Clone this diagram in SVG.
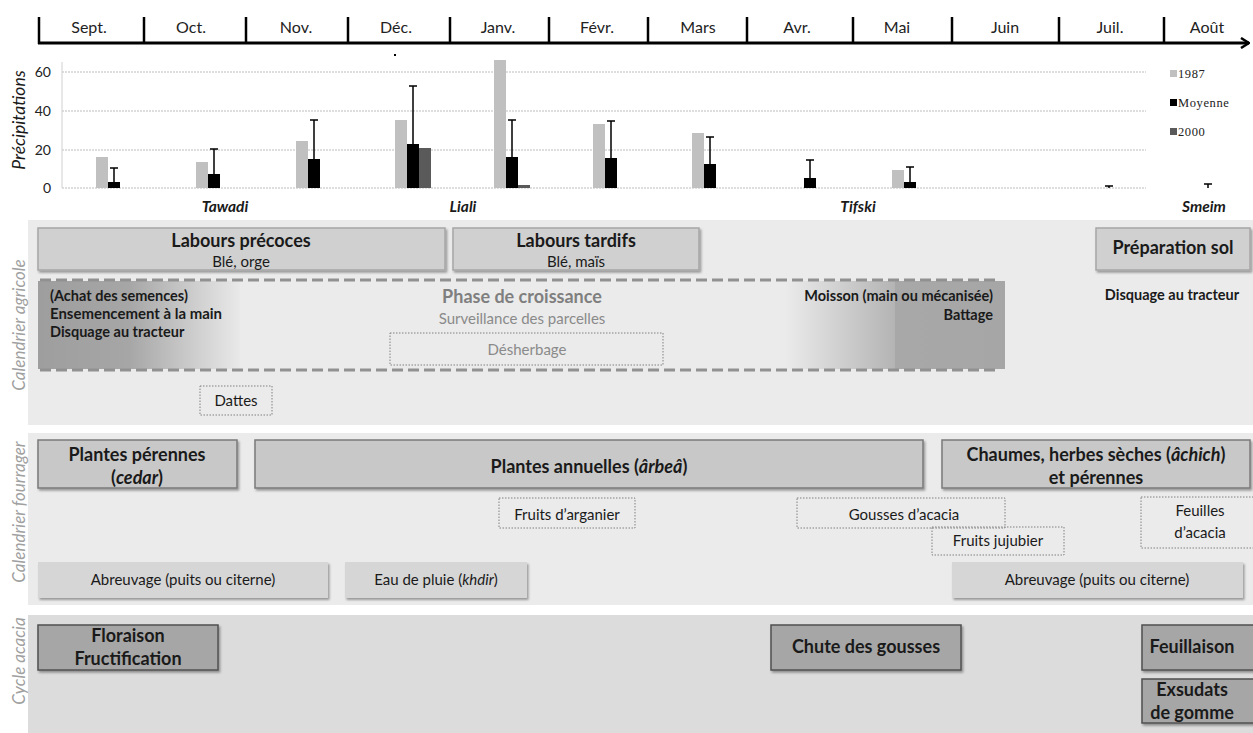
<svg xmlns="http://www.w3.org/2000/svg" width="1253" height="733" viewBox="0 0 1253 733">
<style>
text{font-family:Lato,"Open Sans","Liberation Sans",sans-serif;fill:#1a1a1a}
.m{font-size:16px;text-anchor:middle;fill:#222}
.ax{font-size:14px;text-anchor:end;fill:#222}
.lg{font-size:12.5px;fill:#222;font-family:"Liberation Serif","DejaVu Serif",serif;letter-spacing:0.6px}
.ss{font-size:15.5px;font-weight:bold;font-style:italic;text-anchor:middle}
.side{font-size:17px;font-style:italic;fill:#a0a0a0;text-anchor:middle}
.bt{font-size:18px;font-weight:bold;text-anchor:middle}
.st{font-size:15px;text-anchor:middle}
.lb{font-size:14.5px;font-weight:bold}
.grid{stroke:#bdbdbd;stroke-width:1;stroke-dasharray:2 1}
.b87{fill:#c0c0c0}
.bmo{fill:#000}
.b00{fill:#5a5a5a}
.err{stroke:#000;stroke-width:1.5;fill:none}
.box1{fill:#d0d0d0;stroke:#a6a6a6;stroke-width:1.5;filter:url(#sh)}
.box2{fill:#c8c8c8;stroke:#7a7a7a;stroke-width:1.5;filter:url(#sh)}
.box3{fill:#d6d6d6;filter:url(#sh)}
.box4{fill:#a6a6a6;stroke:#505050;stroke-width:1.5;filter:url(#sh)}
.dot{fill:none;stroke:#808080;stroke-width:1;stroke-dasharray:1.5 1.5}
.dash{stroke:#919191;stroke-width:3;stroke-dasharray:11 5;fill:none}
</style>
<defs>
<filter id="sh" x="-5%" y="-10%" width="115%" height="140%">
<feDropShadow dx="1.5" dy="2" stdDeviation="1.2" flood-color="#000" flood-opacity="0.35"/>
</filter>
<linearGradient id="gl" x1="0" y1="0" x2="1" y2="0">
<stop offset="0" stop-color="#9e9e9e"/>
<stop offset="0.45" stop-color="#a6a6a6"/>
<stop offset="1" stop-color="#e9e9e9"/>
</linearGradient>
<linearGradient id="gr" x1="0" y1="0" x2="1" y2="0">
<stop offset="0" stop-color="#ebebeb"/>
<stop offset="0.5" stop-color="#b4b4b4"/>
<stop offset="0.5" stop-color="#a8a8a8"/>
<stop offset="1" stop-color="#a6a6a6"/>
</linearGradient>
<marker id="arr" markerWidth="10" markerHeight="12" refX="9" refY="6" orient="auto" markerUnits="userSpaceOnUse">
<path d="M1,1 L9,6 L1,11" fill="none" stroke="#000" stroke-width="2.5"/>
</marker>
</defs>
<rect width="1253" height="733" fill="#fff"/>

<!-- Timeline -->
<g id="timeline">
<line x1="38" y1="43" x2="1249" y2="43" stroke="#000" stroke-width="2.8" marker-end="url(#arr)"/>
<g stroke="#000" stroke-width="2.5">
<line x1="39" y1="17" x2="39" y2="44"/>
<line x1="144" y1="17" x2="144" y2="44"/>
<line x1="246" y1="17" x2="246" y2="44"/>
<line x1="348" y1="17" x2="348" y2="44"/>
<line x1="450" y1="17" x2="450" y2="44"/>
<line x1="549" y1="17" x2="549" y2="44"/>
<line x1="648" y1="17" x2="648" y2="44"/>
<line x1="747" y1="17" x2="747" y2="44"/>
<line x1="853" y1="17" x2="853" y2="44"/>
<line x1="952" y1="17" x2="952" y2="44"/>
<line x1="1059" y1="17" x2="1059" y2="44"/>
<line x1="1164" y1="17" x2="1164" y2="44"/>
</g>
<text class="m" x="89" y="33">Sept.</text>
<text class="m" x="191" y="33">Oct.</text>
<text class="m" x="296" y="33">Nov.</text>
<text class="m" x="396" y="33">Déc.</text>
<text class="m" x="498" y="33">Janv.</text>
<text class="m" x="597" y="33">Févr.</text>
<text class="m" x="698" y="33">Mars</text>
<text class="m" x="797" y="33">Avr.</text>
<text class="m" x="897" y="33">Mai</text>
<text class="m" x="1005" y="33">Juin</text>
<text class="m" x="1110" y="33">Juil.</text>
<text class="m" x="1207" y="33">Août</text>
</g>

<!-- Chart -->
<g id="chart">
<rect x="394" y="54" width="2" height="2" fill="#000"/>
<line class="grid" x1="62" y1="72" x2="1146" y2="72"/>
<line class="grid" x1="62" y1="111" x2="1146" y2="111"/>
<line class="grid" x1="62" y1="150" x2="1146" y2="150"/>
<line class="grid" x1="62" y1="188" x2="1146" y2="188"/>
<line x1="62" y1="62" x2="62" y2="188" stroke="#d0d0d0" stroke-width="1"/>
<text class="ax" x="51" y="77">60</text>
<text class="ax" x="51" y="116">40</text>
<text class="ax" x="51" y="155">20</text>
<text class="ax" x="51" y="193">0</text>
<text x="25" y="120" transform="rotate(-90 25 120)" style="font-size:17.5px;font-style:italic;text-anchor:middle;fill:#1a1a1a">Précipitations</text>
<!-- Sept -->
<rect class="b87" x="96" y="157" width="12" height="31"/>
<rect class="bmo" x="108" y="182" width="12" height="6"/>
<path class="err" d="M114,182 V168 M110,168 H118"/>
<!-- Oct -->
<rect class="b87" x="196" y="162" width="12" height="26"/>
<rect class="bmo" x="208" y="174" width="12" height="14"/>
<path class="err" d="M214,174 V149 M210,149 H218"/>
<!-- Nov -->
<rect class="b87" x="296" y="141" width="12" height="47"/>
<rect class="bmo" x="308" y="159" width="12" height="29"/>
<path class="err" d="M314,159 V120 M310,120 H318"/>
<!-- Dec -->
<rect class="b87" x="395" y="120" width="12" height="68"/>
<rect class="bmo" x="407" y="144" width="12" height="44"/>
<rect class="b00" x="419" y="148" width="12" height="40"/>
<path class="err" d="M413,144 V86 M409,86 H417"/>
<!-- Jan -->
<rect class="b87" x="494" y="60" width="12" height="128"/>
<rect class="bmo" x="506" y="157" width="12" height="31"/>
<rect class="b00" x="518" y="185" width="12" height="3"/>
<path class="err" d="M512,157 V120 M508,120 H516"/>
<!-- Feb -->
<rect class="b87" x="593" y="124" width="12" height="64"/>
<rect class="bmo" x="605" y="158" width="12" height="30"/>
<path class="err" d="M611,158 V121 M607,121 H615"/>
<!-- Mar -->
<rect class="b87" x="692" y="133" width="12" height="55"/>
<rect class="bmo" x="704" y="164" width="12" height="24"/>
<path class="err" d="M710,164 V137 M706,137 H714"/>
<!-- Apr -->
<rect class="bmo" x="804" y="178" width="12" height="10"/>
<path class="err" d="M810,178 V160 M806,160 H814"/>
<!-- May -->
<rect class="b87" x="892" y="170" width="12" height="18"/>
<rect class="bmo" x="904" y="182" width="12" height="6"/>
<path class="err" d="M910,182 V167 M906,167 H914"/>
<!-- Jul -->
<path class="err" d="M1109,188 V186 M1105,186 H1113"/>
<!-- Aug -->
<path class="err" d="M1208,188 V184 M1204,184 H1212"/>
<!-- legend -->
<rect class="b87" x="1170" y="70" width="7" height="7"/>
<text class="lg" x="1178" y="78">1987</text>
<rect class="bmo" x="1170" y="99" width="7" height="7"/>
<text class="lg" x="1178" y="107">Moyenne</text>
<rect class="b00" x="1170" y="128" width="7" height="7"/>
<text class="lg" x="1178" y="136">2000</text>
</g>

<!-- Season names -->
<g id="seasons">
<text class="ss" x="225" y="212">Tawadi</text>
<text class="ss" x="463" y="212">Liali</text>
<text class="ss" x="858" y="212">Tifski</text>
<text class="ss" x="1204" y="212">Smeim</text>
</g>

<!-- Section backgrounds -->
<g id="bands">
<rect x="28" y="220" width="1225" height="205" fill="#ebebeb"/>
<rect x="28" y="433" width="1225" height="172" fill="#ebebeb"/>
<rect x="28" y="615" width="1225" height="118" fill="#dcdcdc"/>
<text class="side" x="25" y="325" transform="rotate(-90 25 325)">Calendrier agricole</text>
<text class="side" x="25" y="512" transform="rotate(-90 25 512)">Calendrier fourrager</text>
<text class="side" x="25" y="661" transform="rotate(-90 25 661)">Cycle acacia</text>
</g>

<!-- Agricultural calendar -->
<g id="labours-precoces">
<rect class="box1" x="38" y="228" width="407" height="42"/>
<text class="bt" x="241" y="247">Labours précoces</text>
<text class="st" x="241" y="267">Blé, orge</text>
</g>
<g id="labours-tardifs">
<rect class="box1" x="453" y="228" width="246" height="42"/>
<text class="bt" x="576" y="247">Labours tardifs</text>
<text class="st" x="576" y="267">Blé, maïs</text>
</g>
<g id="preparation-sol">
<rect class="box1" x="1096" y="228" width="154" height="42"/>
<text class="bt" x="1173" y="254">Préparation sol</text>
<text class="lb" x="1172" y="300" text-anchor="middle">Disquage au tracteur</text>
</g>
<g id="phase-croissance">
<rect x="38" y="281" width="202" height="88" fill="url(#gl)"/>
<rect x="785" y="281" width="220" height="88" fill="url(#gr)"/>
<line class="dash" x1="40" y1="280" x2="998" y2="280"/>
<line class="dash" x1="40" y1="370" x2="998" y2="370"/>
<text class="lb" x="50" y="301">(Achat des semences)</text>
<text class="lb" x="50" y="319" textLength="172" lengthAdjust="spacingAndGlyphs">Ensemencement à la main</text>
<text class="lb" x="50" y="337">Disquage au tracteur</text>
<text x="522" y="303" style="font-size:18px;font-weight:bold;text-anchor:middle;fill:#7f7f7f">Phase de croissance</text>
<text x="522" y="324" style="font-size:15px;text-anchor:middle;fill:#8a8a8a">Surveillance des parcelles</text>
<text class="lb" x="993" y="301" text-anchor="end">Moisson (main ou mécanisée)</text>
<text class="lb" x="993" y="320" text-anchor="end">Battage</text>
</g>
<g id="desherbage">
<rect class="dot" x="390" y="333" width="273" height="32"/>
<text x="527" y="355" style="font-size:15px;text-anchor:middle;fill:#8a8a8a">Désherbage</text>
</g>
<g id="dattes">
<rect class="dot" x="200" y="386" width="72" height="29"/>
<text class="st" x="236" y="406">Dattes</text>
</g>

<!-- Fodder calendar -->
<g id="plantes-perennes">
<rect class="box2" x="38" y="440" width="199" height="48"/>
<text class="bt" x="137" y="461">Plantes pérennes</text>
<text class="bt" x="137" y="484">(<tspan font-style="italic">cedar</tspan>)</text>
</g>
<g id="plantes-annuelles">
<rect class="box2" x="255" y="440" width="668" height="48"/>
<text class="bt" x="589" y="473">Plantes annuelles (<tspan font-style="italic">ârbeâ</tspan>)</text>
</g>
<g id="chaumes">
<rect class="box2" x="942" y="440" width="308" height="48"/>
<text class="bt" x="1096" y="461">Chaumes, herbes sèches (<tspan font-style="italic">âchich</tspan>)</text>
<text class="bt" x="1096" y="484">et pérennes</text>
</g>
<g id="fruits-arganier">
<rect class="dot" x="499" y="498" width="136" height="30"/>
<text class="st" x="567" y="520">Fruits d’arganier</text>
</g>
<g id="gousses-acacia">
<rect class="dot" x="797" y="498" width="208" height="30"/>
<text class="st" x="904" y="520">Gousses d’acacia</text>
</g>
<g id="fruits-jujubier">
<rect class="dot" x="932" y="527" width="132" height="28"/>
<text class="st" x="998" y="546">Fruits jujubier</text>
</g>
<g id="feuilles-acacia">
<rect class="dot" x="1141" y="497" width="115" height="51"/>
<text class="st" x="1200" y="516">Feuilles</text>
<text class="st" x="1200" y="538">d’acacia</text>
</g>
<g id="abreuvage-1">
<rect class="box3" x="38" y="562" width="290" height="36"/>
<text class="st" x="183" y="585">Abreuvage (puits ou citerne)</text>
</g>
<g id="eau-pluie">
<rect class="box3" x="345" y="562" width="182" height="36"/>
<text class="st" x="436" y="585">Eau de pluie (<tspan font-style="italic">khdir</tspan>)</text>
</g>
<g id="abreuvage-2">
<rect class="box3" x="952" y="562" width="291" height="36"/>
<text class="st" x="1097" y="585">Abreuvage (puits ou citerne)</text>
</g>

<!-- Acacia cycle -->
<g id="floraison">
<rect class="box4" x="38" y="625" width="180" height="45"/>
<text class="bt" x="128" y="642">Floraison</text>
<text class="bt" x="128" y="665">Fructification</text>
</g>
<g id="chute-gousses">
<rect class="box4" x="771" y="625" width="190" height="45"/>
<text class="bt" x="866" y="653">Chute des gousses</text>
</g>
<g id="feuillaison">
<rect class="box4" x="1142" y="625" width="113" height="45"/>
<text class="bt" x="1192" y="653">Feuillaison</text>
</g>
<g id="exsudats">
<rect class="box4" x="1142" y="679" width="113" height="44"/>
<text class="bt" x="1192" y="696">Exsudats</text>
<text class="bt" x="1192" y="719">de gomme</text>
</g>
</svg>
